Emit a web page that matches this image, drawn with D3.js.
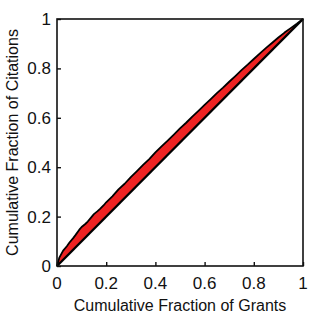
<!DOCTYPE html>
<head>
  <meta charset="utf-8">
  <script src="https://d3js.org/d3.v7.min.js"></script>
  <style>
    body { margin:0; background:#fff; }
    text { font-family: "Liberation Sans", Arial, sans-serif; fill:#111; }
    .tick-label { font-size: 17px; }
    .title { font-size: 16px; }
    .frame { fill:none; stroke:#111; stroke-width:1.6; }
    .diag { stroke:#000; stroke-width:2.4; }
    .curve-area { fill:#ee2222; }
    .curve-line { fill:none; stroke:#000; stroke-width:1.8; stroke-linejoin:round; }
  </style>
</head>
<body>
  <script>
    // cumulative fraction of grants (x) vs cumulative fraction of citations (y)
    var grants = [0, 0.01, 0.025, 0.04, 0.05, 0.065, 0.075, 0.09, 0.1, 0.115, 0.125, 0.14, 0.15, 0.165, 0.175, 0.19, 0.2,
      0.225, 0.25, 0.275, 0.3, 0.325, 0.35, 0.375, 0.4, 0.425, 0.45, 0.475, 0.5, 0.525, 0.55, 0.575, 0.6,
      0.625, 0.65, 0.675, 0.7, 0.725, 0.75, 0.775, 0.8, 0.825, 0.85, 0.875, 0.9, 0.925, 0.95, 0.975, 1];
    var citations = [0, 0.035, 0.062, 0.08, 0.094, 0.112, 0.125, 0.146, 0.158, 0.17, 0.18, 0.198, 0.21, 0.222, 0.231, 0.246, 0.258,
      0.282, 0.31, 0.333, 0.36, 0.384, 0.409, 0.433, 0.46, 0.484, 0.508, 0.532, 0.557, 0.58, 0.605, 0.628, 0.652,
      0.676, 0.7, 0.722, 0.746, 0.769, 0.793, 0.815, 0.838, 0.861, 0.883, 0.904, 0.925, 0.945, 0.963, 0.981, 1];
    var tickValues = [0, 0.2, 0.4, 0.6, 0.8, 1];

    var margin = {top: 19, right: 22, bottom: 57, left: 57};
    var width = 325 - margin.left - margin.right,
        height = 323 - margin.top - margin.bottom;

    var svg = d3.select("body").append("svg")
        .attr("width", 325)
        .attr("height", 323)
      .append("g")
        .attr("transform", "translate(" + margin.left + "," + margin.top + ")");

    var x = d3.scaleLinear().domain([0, 1]).range([0, width]);
    var y = d3.scaleLinear().domain([0, 1]).range([height, 0]);

    var pts = grants.map(function(g, i) { return {g: g, c: citations[i]}; });

    var area = d3.area()
      .x(function(d) { return x(d.g); })
      .y0(function(d) { return y(d.g); })
      .y1(function(d) { return y(d.c); });

    var line = d3.line()
      .x(function(d) { return x(d.g); })
      .y(function(d) { return y(d.c); });

    svg.append("path").datum(pts).attr("class", "curve-area").attr("d", area);

    svg.append("line").attr("class", "diag")
      .attr("x1", x(0)).attr("y1", y(0))
      .attr("x2", x(1)).attr("y2", y(1));

    svg.append("path").datum(pts).attr("class", "curve-line").attr("d", line);

    // inward ticks
    var xAxis = d3.axisTop(x).tickValues(tickValues).tickSize(4).tickFormat("");
    var yAxis = d3.axisRight(y).tickValues(tickValues).tickSize(4).tickFormat("");

    svg.append("g").attr("transform", "translate(0," + height + ")").call(xAxis)
      .call(function(g) { g.select(".domain").remove(); g.selectAll("line").attr("stroke", "#111").attr("stroke-width", 1.4); });
    svg.append("g").call(yAxis)
      .call(function(g) { g.select(".domain").remove(); g.selectAll("line").attr("stroke", "#111").attr("stroke-width", 1.4); });

    svg.append("rect").attr("class", "frame")
      .attr("x", 0).attr("y", 0).attr("width", width).attr("height", height);

    var fmt = function(v) { return v === 0 || v === 1 ? String(v) : v.toFixed(1); };

    svg.selectAll(".xl").data(tickValues).enter().append("text")
      .attr("class", "tick-label")
      .attr("x", function(d) { return x(d); })
      .attr("y", height + 23)
      .attr("text-anchor", "middle")
      .text(fmt);

    svg.selectAll(".yl").data(tickValues).enter().append("text")
      .attr("class", "tick-label")
      .attr("x", -6)
      .attr("y", function(d) { return y(d) + 6; })
      .attr("text-anchor", "end")
      .text(fmt);

    svg.append("text").attr("class", "title")
      .attr("x", width / 2)
      .attr("y", height + 45)
      .attr("text-anchor", "middle")
      .text("Cumulative Fraction of Grants");

    svg.append("text").attr("class", "title")
      .attr("transform", "translate(" + (-39) + "," + (height / 2) + ") rotate(-90)")
      .attr("text-anchor", "middle")
      .text("Cumulative Fraction of Citations");
  </script>
</body>
